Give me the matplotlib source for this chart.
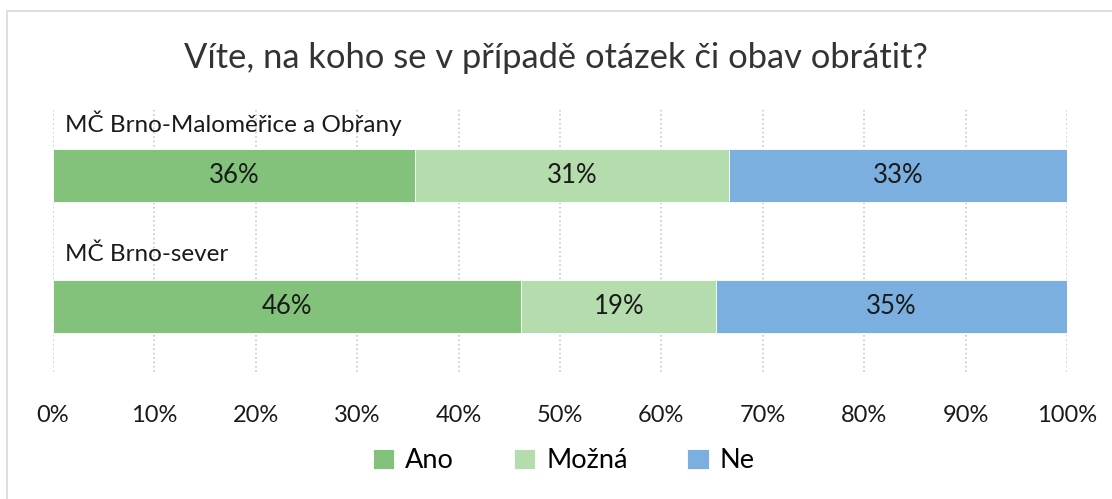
import matplotlib.pyplot as plt
import matplotlib.patches as patches
import numpy as np

plt.rcParams['font.family'] = ['Lato', 'DejaVu Sans']

# data (percent)
categories = ['MČ Brno-Maloměřice a Obřany', 'MČ Brno-sever']
ano = [35.7, 46.2]
mozna = [31.0, 19.2]
ne = [33.3, 34.6]
series_names = ['Ano', 'Možná', 'Ne']
colours = ['#82C27A', '#B5DCAD', '#7BAFDF']

fig = plt.figure(figsize=(11.12, 4.99), dpi=100)
W, H = 1112, 499

# outer chart border (only top/left visible in the crop)
fig.patches.append(patches.Rectangle((7 / W, -0.1), 1.2, 1 - 11 / H + 0.1,
                                     transform=fig.transFigure, fill=False,
                                     edgecolor='#D9D9D9', linewidth=1.2))

ax = fig.add_axes([53 / W, 1 - 372 / H, (1067 - 53) / W, (372 - 110) / H])

y = np.arange(len(categories))
left = np.zeros(len(categories))
for vals, name, col in zip([ano, mozna, ne], series_names, colours):
    vals = np.array(vals)
    ax.barh(y, vals, left=left, height=0.40, color=col, label=name,
            edgecolor='white', linewidth=0.6, zorder=2)
    for yi, l, v in zip(y, left, vals):
        ax.text(l + v / 2, yi, f'{round(v):.0f}%', ha='center', va='center',
                fontsize=18.5, color='#1a1a1a', zorder=3)
    left = left + vals

# category labels above the bars
for yi, cat in zip(y, categories):
    ax.text(1.2, yi - 0.40, cat, ha='left', va='center', fontsize=17.5,
            color='#1a1a1a')

ax.set_xlim(0, 100)
ax.set_ylim(1.5, -0.5)
ax.set_xticks(np.arange(0, 101, 10))
ax.set_xticklabels([f'{t}%' for t in range(0, 101, 10)], fontsize=17, color='#1a1a1a')
ax.set_yticks([])
ax.tick_params(axis='x', length=0, pad=24)
ax.grid(axis='x', color='#C8C8C8', linestyle=':', linewidth=1.2, zorder=0)
for s in ax.spines.values():
    s.set_visible(False)

fig.text(0.5, 1 - 58 / H, 'Víte, na koho se v případě otázek či obav obrátit?',
         ha='center', va='center', fontsize=24.8, color='#333333')

fig.legend(loc='center', bbox_to_anchor=(0.507, 1 - 461 / H), ncol=3,
           frameon=False, fontsize=19.5, handlelength=0.8, handleheight=0.8,
           columnspacing=2.2, handletextpad=0.4)

fig.savefig('out.png', dpi=100)
